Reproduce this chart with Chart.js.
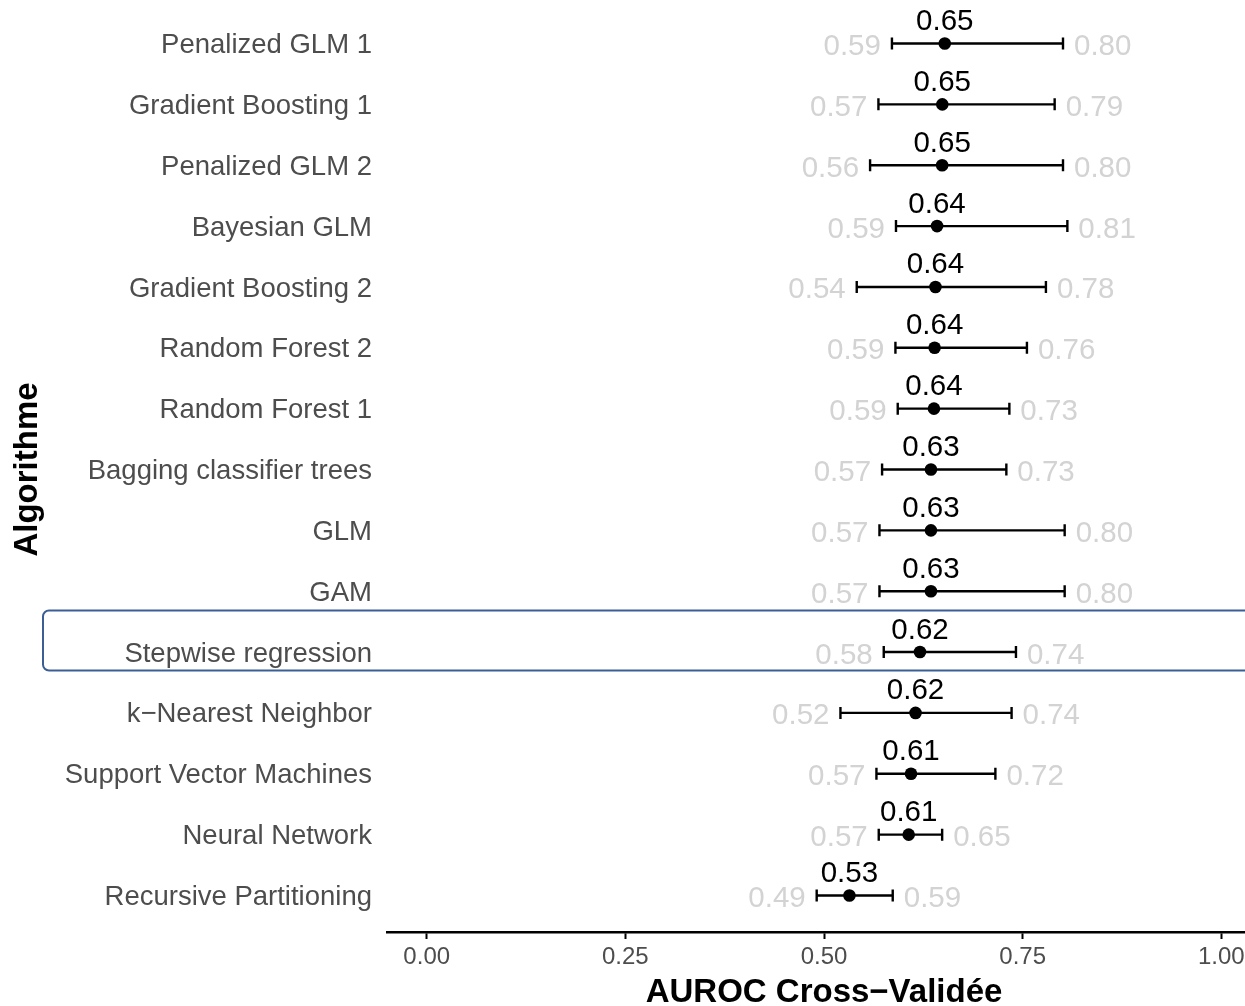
<!DOCTYPE html>
<html>
<head>
<meta charset="utf-8">
<script src="https://cdn.jsdelivr.net/npm/chart.js@4/dist/chart.umd.min.js"></script>
<style>
html,body{margin:0;padding:0;background:#fff;overflow:hidden;width:1245px;height:1006px;}
#wrap{position:absolute;left:0;top:0;width:1261px;height:1006px;}
</style>
</head>
<body>
<div id="wrap"><canvas id="c"></canvas></div>
<script>
const categories = ["Penalized GLM 1","Gradient Boosting 1","Penalized GLM 2","Bayesian GLM","Gradient Boosting 2","Random Forest 2","Random Forest 1","Bagging classifier trees","GLM","GAM","Stepwise regression","k\u2212Nearest Neighbor","Support Vector Machines","Neural Network","Recursive Partitioning"];
const meanAUC  = [0.6520,0.6489,0.6487,0.6423,0.6403,0.6392,0.6384,0.6346,0.6346,0.6346,0.6208,0.6152,0.6095,0.6066,0.5320];
const lowerAUC = [0.5855,0.5685,0.5580,0.5906,0.5412,0.5899,0.5928,0.5731,0.5698,0.5698,0.5752,0.5207,0.5660,0.5689,0.4908];
const upperAUC = [0.8008,0.7903,0.8008,0.8063,0.7793,0.7554,0.7333,0.7295,0.8029,0.8029,0.7416,0.7361,0.7157,0.6487,0.5865];
const xTicks = [0, 0.25, 0.5, 0.75, 1];
const highlightRow = 10;

const fmt = v => (Math.round(v * 100) / 100).toFixed(2);
const FONT = "'Liberation Sans', Arial, Helvetica, sans-serif";

const points = meanAUC.map((m, i) => ({x: m, y: i}));

const overlay = {
  id: 'overlay',
  beforeDatasetsDraw(chart) {
    const {ctx, scales: {x, y}} = chart;
    ctx.save();
    ctx.strokeStyle = '#000';
    ctx.lineWidth = 2.4;
    const cap = 6;
    for (let i = 0; i < meanAUC.length; i++) {
      const py = y.getPixelForValue(i);
      const x1 = x.getPixelForValue(lowerAUC[i]);
      const x2 = x.getPixelForValue(upperAUC[i]);
      ctx.beginPath();
      ctx.moveTo(x1, py); ctx.lineTo(x2, py);
      ctx.moveTo(x1, py - cap); ctx.lineTo(x1, py + cap);
      ctx.moveTo(x2, py - cap); ctx.lineTo(x2, py + cap);
      ctx.stroke();
    }
    ctx.restore();
  },
  afterDatasetsDraw(chart) {
    const {ctx, scales: {x, y}} = chart;
    ctx.save();
    ctx.font = '29.5px ' + FONT;
    ctx.textBaseline = 'alphabetic';
    for (let i = 0; i < meanAUC.length; i++) {
      const py = y.getPixelForValue(i);
      const pm = x.getPixelForValue(meanAUC[i]);
      const x1 = x.getPixelForValue(lowerAUC[i]);
      const x2 = x.getPixelForValue(upperAUC[i]);
      ctx.fillStyle = '#000';
      ctx.textAlign = 'center';
      ctx.fillText(fmt(meanAUC[i]), pm, py - 13.5);
      ctx.fillStyle = '#d3d3d3';
      ctx.textAlign = 'right';
      ctx.fillText(fmt(lowerAUC[i]), x1 - 11, py + 11.5);
      ctx.textAlign = 'left';
      ctx.fillText(fmt(upperAUC[i]), x2 + 11, py + 11.5);
    }
    // highlight box around the selected row
    const top = y.getPixelForValue(highlightRow - 0.683);
    const bot = y.getPixelForValue(highlightRow + 0.302);
    const left = chart.chartArea.left - 344;
    const right = chart.width + 20;
    ctx.strokeStyle = '#3b5f95';
    ctx.lineWidth = 2;
    ctx.beginPath();
    ctx.roundRect(left, top, right - left, bot - top, 6);
    ctx.stroke();
    ctx.restore();
  }
};

new Chart(document.getElementById('c'), {
  type: 'scatter',
  data: {
    datasets: [{
      data: points,
      pointRadius: 6.3,
      pointHoverRadius: 6.3,
      pointBackgroundColor: '#000',
      pointBorderColor: '#000',
      pointBorderWidth: 0,
      showLine: false
    }]
  },
  options: {
    responsive: true,
    maintainAspectRatio: false,
    animation: false,
    events: [],
    layout: {autoPadding: false, padding: {left: 0, right: 0, top: 7, bottom: 0}},
    plugins: {legend: {display: false}, tooltip: {enabled: false}},
    scales: {
      x: {
        type: 'linear',
        min: -0.05,
        max: 1.05,
        afterBuildTicks: s => { s.ticks = xTicks.map(v => ({value: v})); },
        afterFit: s => { s.height = 74; s.paddingLeft = 0; s.paddingRight = 0; },
        grid: {display: true, drawOnChartArea: false, drawTicks: true, tickLength: 7, tickColor: '#000', tickWidth: 2},
        border: {display: true, color: '#000', width: 2.4},
        ticks: {
          color: '#4d4d4d',
          font: {family: FONT, size: 24},
          padding: 4,
          maxRotation: 0,
          autoSkip: false,
          callback: v => v.toFixed(2)
        },
        title: {
          display: true,
          text: 'AUROC Cross\u2212Validée',
          color: '#000',
          font: {family: FONT, size: 33, weight: 'bold'},
          padding: {top: 0, bottom: -7}
        }
      },
      y: {
        type: 'linear',
        reverse: true,
        min: -0.6,
        max: 14.6,
        afterBuildTicks: s => { s.ticks = categories.map((c, i) => ({value: i})); },
        afterFit: s => { s.width = 387; s.paddingTop = 0; s.paddingBottom = 0; },
        grid: {display: false, drawTicks: false},
        border: {display: false},
        ticks: {
          color: '#4d4d4d',
          font: {family: FONT, size: 27.5},
          padding: 15,
          labelOffset: 2,
          autoSkip: false,
          callback: v => categories[v]
        },
        title: {
          display: true,
          text: 'Algorithme',
          color: '#000',
          font: {family: FONT, size: 33, weight: 'bold'},
          padding: {top: 8, bottom: 0}
        }
      }
    }
  },
  plugins: [overlay]
});
</script>
</body>
</html>
